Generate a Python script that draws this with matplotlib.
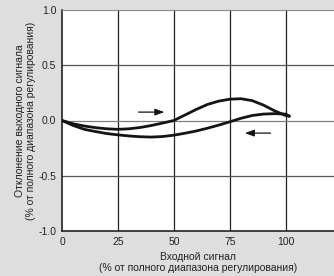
import matplotlib.pyplot as plt

plt.rcParams['font.family'] = ['Liberation Sans Narrow', 'Liberation Sans', 'DejaVu Sans']

# forward stroke (increasing input)
x_up = [0, 5, 10, 15, 20, 25, 30, 35, 40, 45, 50, 55, 60, 65, 70, 75, 80, 85, 90, 95, 100, 101.5]
y_up = [0, -0.03, -0.05, -0.065, -0.075, -0.08, -0.075, -0.063, -0.045, -0.023, 0.0,
        0.05, 0.1, 0.145, 0.175, 0.193, 0.197, 0.18, 0.14, 0.088, 0.045, 0.04]

# return stroke (decreasing input)
x_down = [0, 5, 10, 15, 20, 25, 30, 35, 40, 45, 50, 55, 60, 65, 70, 75, 80, 85, 90, 95, 100, 101.5]
y_down = [0, -0.045, -0.08, -0.1, -0.118, -0.13, -0.14, -0.147, -0.15, -0.145, -0.133,
          -0.115, -0.095, -0.07, -0.042, -0.012, 0.02, 0.045, 0.058, 0.062, 0.058, 0.04]

x_ticks = [0, 25, 50, 75, 100]
y_ticks = [-1.0, -0.5, 0.0, 0.5, 1.0]
y_labels = ['-1.0', '-0.5', '0.0', '0.5', '1.0']

fig = plt.figure(figsize=(3.34, 2.76), dpi=100)
fig.patch.set_facecolor('#dedede')
ax = fig.add_axes([62 / 334, 45 / 276, 272 / 334, 221 / 276])
ax.set_facecolor('white')

# grid
for xv in x_ticks[1:]:
    ax.axvline(xv, color='#222222', lw=0.9, zorder=1)
for yv in [-0.5, 0.5]:
    ax.axhline(yv, color='#555555', lw=0.9, zorder=1)
ax.axhline(0.0, color='#808080', lw=0.9, zorder=1)

ax.plot(x_up, y_up, color='#141414', lw=2.0, zorder=3)
ax.plot(x_down, y_down, color='#141414', lw=2.0, zorder=3)

# direction arrows
ax.annotate('', xy=(47, 0.076), xytext=(33, 0.076),
            arrowprops=dict(arrowstyle='-|>,head_length=0.55,head_width=0.2', color='#141414', lw=0.9))
ax.annotate('', xy=(80.5, -0.114), xytext=(94.5, -0.114),
            arrowprops=dict(arrowstyle='-|>,head_length=0.55,head_width=0.2', color='#141414', lw=0.9))

ax.set_xlim(0, 121.6)
ax.set_ylim(-1.0, 1.0)
ax.set_xticks(x_ticks)
ax.set_yticks(y_ticks)
ax.set_yticklabels(y_labels)
ax.tick_params(length=0, labelsize=7.5, colors='#222222', pad=4)

ax.spines['right'].set_visible(False)
ax.spines['top'].set_color('#888888')
ax.spines['left'].set_color('#222222')
ax.spines['bottom'].set_color('#222222')
ax.spines['left'].set_linewidth(1.2)
ax.spines['bottom'].set_linewidth(1.2)

ax.set_xlabel('Входной сигнал\n(% от полного диапазона регулирования)',
              fontsize=7.5, color='#222222', linespacing=1.05, labelpad=4)
ax.set_ylabel('Отклонение выходного сигнала\n(% от полного диапазона регулирования)',
              fontsize=7.5, color='#222222', linespacing=1.1, labelpad=2)

fig.savefig('out.png', dpi=100, facecolor=fig.get_facecolor())
